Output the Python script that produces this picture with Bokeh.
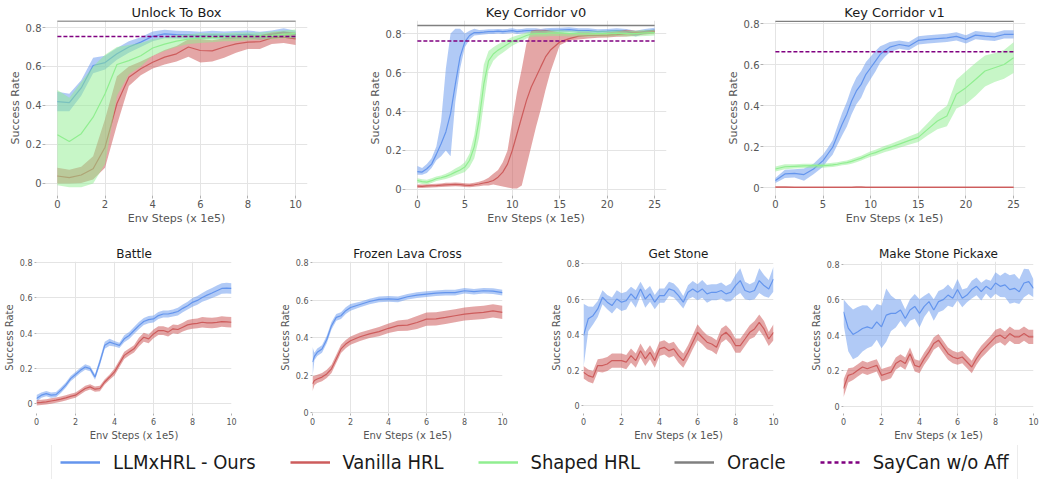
import numpy as np
from bokeh.plotting import figure
from bokeh.layouts import column, row
from bokeh.models import Range1d, NumeralTickFormatter, Legend, LegendItem
from bokeh.embed import file_html
from bokeh.resources import INLINE

# ---------------- labels / ticks ----------------
SERIES_NAMES = ["LLMxHRL - Ours", "Vanilla HRL", "Shaped HRL", "Oracle", "SayCan w/o Aff"]
Y_TICKS = [0, 0.2, 0.4, 0.6, 0.8]
X_TICKS_10 = [0, 2, 4, 6, 8, 10]
X_TICKS_25 = [0, 5, 10, 15, 20, 25]
X_LABEL = "Env Steps (x 1e5)"
Y_LABEL = "Success Rate"

BLUE, RED, GREEN, GREY, PURPLE = "#6495ED", "#CD5C5C", "#90EE90", "#808080", "#800080"
FONT = "DejaVu Sans"

# ---------------- Unlock To Box ----------------
unlock_x = [0, 0.5, 1, 1.5, 2, 2.5, 3, 3.5, 4, 4.5, 5, 5.5, 6, 6.5, 7, 7.5, 8, 8.5, 9, 9.5, 10]
unlock_blue = [0.42, 0.415, 0.49, 0.605, 0.62, 0.665, 0.70, 0.725, 0.755, 0.767, 0.764, 0.762, 0.758, 0.763, 0.76, 0.762, 0.765, 0.758, 0.765, 0.776, 0.764]
unlock_blue_hw = [0.05, 0.045, 0.04, 0.04, 0.035, 0.03, 0.03, 0.025, 0.025, 0.022, 0.02, 0.02, 0.02, 0.02, 0.02, 0.02, 0.02, 0.02, 0.02, 0.02, 0.02]
unlock_red = [0.038, 0.03, 0.043, 0.075, 0.186, 0.41, 0.545, 0.588, 0.622, 0.648, 0.665, 0.70, 0.682, 0.68, 0.70, 0.716, 0.725, 0.727, 0.747, 0.75, 0.742]
unlock_red_lo = [0.0, 0.0, 0.002, 0.02, 0.08, 0.3, 0.5, 0.555, 0.59, 0.61, 0.625, 0.65, 0.62, 0.625, 0.645, 0.67, 0.69, 0.69, 0.715, 0.72, 0.71]
unlock_red_hi = [0.08, 0.07, 0.085, 0.14, 0.33, 0.55, 0.6, 0.625, 0.655, 0.685, 0.705, 0.74, 0.74, 0.735, 0.745, 0.755, 0.76, 0.76, 0.775, 0.78, 0.775]
unlock_green = [0.25, 0.215, 0.255, 0.34, 0.46, 0.61, 0.63, 0.655, 0.695, 0.715, 0.73, 0.74, 0.745, 0.748, 0.75, 0.752, 0.755, 0.757, 0.76, 0.765, 0.77]
unlock_green_lo = [-0.01, -0.02, -0.02, 0.0, 0.1, 0.45, 0.56, 0.6, 0.655, 0.68, 0.70, 0.715, 0.72, 0.725, 0.73, 0.73, 0.735, 0.74, 0.74, 0.745, 0.745]
unlock_green_hi = [0.48, 0.44, 0.52, 0.6, 0.66, 0.70, 0.71, 0.72, 0.74, 0.75, 0.76, 0.765, 0.77, 0.77, 0.77, 0.775, 0.775, 0.775, 0.78, 0.785, 0.79]
unlock_oracle = 0.834
unlock_saycan = 0.754

# ---------------- Key Corridor v0 ----------------
v0_x = [0, 0.5, 1, 1.5, 2, 2.5, 3, 3.5, 4, 4.5, 5, 5.5, 6, 6.5, 7, 7.5, 8, 8.5, 9, 9.5, 10, 10.5, 11, 11.5, 12, 12.5, 13, 13.5, 14, 15, 16, 17, 18, 19, 20, 21, 22, 23, 24, 25]
v0_blue = [0.092, 0.089, 0.106, 0.13, 0.18, 0.235, 0.295, 0.39, 0.54, 0.68, 0.757, 0.79, 0.805, 0.805, 0.807, 0.81, 0.81, 0.812, 0.81, 0.812, 0.815, 0.81, 0.812, 0.815, 0.815, 0.815, 0.812, 0.815, 0.817, 0.818, 0.82, 0.815, 0.815, 0.81, 0.812, 0.815, 0.812, 0.80, 0.812, 0.818]
v0_blue_lo = [0.075, 0.075, 0.085, 0.11, 0.15, 0.17, 0.20, 0.17, 0.45, 0.62, 0.73, 0.77, 0.79, 0.792, 0.795, 0.798, 0.798, 0.8, 0.798, 0.8, 0.803, 0.798, 0.8, 0.803, 0.803, 0.803, 0.8, 0.803, 0.805, 0.806, 0.808, 0.803, 0.803, 0.798, 0.8, 0.803, 0.8, 0.785, 0.8, 0.805]
v0_blue_hi = [0.12, 0.11, 0.13, 0.16, 0.22, 0.35, 0.62, 0.8, 0.825, 0.825, 0.80, 0.815, 0.825, 0.818, 0.82, 0.822, 0.822, 0.824, 0.822, 0.824, 0.827, 0.822, 0.824, 0.827, 0.827, 0.827, 0.824, 0.827, 0.829, 0.83, 0.832, 0.827, 0.827, 0.822, 0.824, 0.827, 0.824, 0.815, 0.824, 0.83]
v0_red = [0.017, 0.016, 0.018, 0.019, 0.02, 0.022, 0.024, 0.025, 0.026, 0.025, 0.022, 0.021, 0.024, 0.028, 0.033, 0.038, 0.046, 0.063, 0.089, 0.13, 0.2, 0.286, 0.372, 0.457, 0.526, 0.577, 0.629, 0.68, 0.714, 0.757, 0.774, 0.787, 0.79, 0.79, 0.792, 0.795, 0.80, 0.803, 0.805, 0.81]
v0_red_lo = [0.008, 0.008, 0.009, 0.01, 0.011, 0.012, 0.014, 0.015, 0.016, 0.015, 0.012, 0.011, 0.014, 0.017, 0.02, 0.02, 0.025, 0.02, 0.015, 0.01, 0.005, 0.005, 0.02, 0.12, 0.22, 0.32, 0.41, 0.51, 0.60, 0.74, 0.765, 0.77, 0.775, 0.778, 0.78, 0.783, 0.785, 0.79, 0.795, 0.80]
v0_red_hi = [0.026, 0.025, 0.027, 0.028, 0.029, 0.031, 0.034, 0.035, 0.036, 0.035, 0.032, 0.031, 0.034, 0.04, 0.047, 0.06, 0.08, 0.10, 0.14, 0.20, 0.35, 0.50, 0.62, 0.75, 0.815, 0.82, 0.82, 0.82, 0.815, 0.805, 0.80, 0.805, 0.805, 0.80, 0.805, 0.81, 0.82, 0.815, 0.815, 0.82]
v0_green = [0.046, 0.04, 0.038, 0.045, 0.055, 0.06, 0.067, 0.077, 0.089, 0.10, 0.115, 0.15, 0.22, 0.355, 0.54, 0.66, 0.695, 0.715, 0.73, 0.745, 0.76, 0.77, 0.78, 0.79, 0.797, 0.80, 0.80, 0.80, 0.802, 0.803, 0.80, 0.80, 0.798, 0.80, 0.80, 0.802, 0.80, 0.80, 0.803, 0.805]
v0_green_hw = [0.012, 0.012, 0.012, 0.012, 0.012, 0.012, 0.013, 0.015, 0.018, 0.02, 0.025, 0.035, 0.06, 0.09, 0.1, 0.05, 0.035, 0.03, 0.028, 0.025, 0.022, 0.02, 0.018, 0.016, 0.015, 0.015, 0.015, 0.015, 0.015, 0.015, 0.015, 0.015, 0.015, 0.015, 0.015, 0.015, 0.015, 0.015, 0.015, 0.015]
v0_oracle = 0.841
v0_saycan = 0.762

# ---------------- Key Corridor v1 ----------------
v1_x = [0, 1, 2, 3, 4, 5, 5.5, 6, 6.5, 7, 7.5, 8, 8.5, 9, 9.5, 10, 10.5, 11, 11.5, 12, 13, 14, 15, 16, 17, 18, 19, 20, 21, 22, 23, 24, 25]
v1_blue = [0.036, 0.068, 0.071, 0.065, 0.092, 0.133, 0.165, 0.197, 0.254, 0.31, 0.359, 0.423, 0.472, 0.504, 0.553, 0.585, 0.617, 0.65, 0.669, 0.685, 0.698, 0.69, 0.718, 0.723, 0.727, 0.73, 0.738, 0.723, 0.744, 0.739, 0.735, 0.747, 0.747]
v1_blue_hw = [0.012, 0.02, 0.02, 0.03, 0.025, 0.03, 0.03, 0.035, 0.045, 0.055, 0.06, 0.065, 0.065, 0.065, 0.06, 0.055, 0.05, 0.04, 0.03, 0.025, 0.02, 0.02, 0.02, 0.02, 0.02, 0.02, 0.02, 0.02, 0.02, 0.02, 0.02, 0.02, 0.02]
v1_red = [0.004, 0.004, 0.003, 0.003, 0.003, 0.003, 0.003, 0.003, 0.003, 0.003, 0.003, 0.003, 0.004, 0.004, 0.003, 0.003, 0.003, 0.003, 0.003, 0.003, 0.003, 0.003, 0.003, 0.003, 0.003, 0.003, 0.003, 0.003, 0.003, 0.003, 0.003, 0.003, 0.003]
v1_red_hw = [0.004, 0.004, 0.004, 0.004, 0.004, 0.004, 0.004, 0.004, 0.004, 0.004, 0.004, 0.004, 0.004, 0.004, 0.004, 0.004, 0.004, 0.004, 0.004, 0.004, 0.004, 0.004, 0.004, 0.004, 0.004, 0.004, 0.004, 0.004, 0.004, 0.004, 0.004, 0.004, 0.004]
v1_green = [0.092, 0.103, 0.105, 0.107, 0.108, 0.108, 0.11, 0.112, 0.115, 0.12, 0.123, 0.129, 0.137, 0.145, 0.155, 0.165, 0.172, 0.181, 0.19, 0.197, 0.213, 0.23, 0.246, 0.286, 0.326, 0.35, 0.456, 0.488, 0.528, 0.569, 0.585, 0.601, 0.634]
v1_green_hw = [0.012, 0.012, 0.01, 0.01, 0.01, 0.01, 0.01, 0.01, 0.01, 0.01, 0.01, 0.012, 0.012, 0.012, 0.012, 0.013, 0.014, 0.015, 0.015, 0.016, 0.018, 0.02, 0.022, 0.03, 0.04, 0.05, 0.07, 0.08, 0.08, 0.075, 0.07, 0.07, 0.075]
v1_oracle = 0.811
v1_saycan = 0.663

# ---------------- bottom row (x every 0.25) ----------------
x_quarter = [0, 0.25, 0.5, 0.75, 1, 1.25, 1.5, 1.75, 2, 2.25, 2.5, 2.75, 3, 3.25, 3.5, 3.75, 4, 4.25, 4.5, 4.75, 5, 5.25, 5.5, 5.75, 6, 6.25, 6.5, 6.75, 7, 7.25, 7.5, 7.75, 8, 8.25, 8.5, 8.75, 9, 9.25, 9.5, 9.75, 10]

battle_blue = [0.028, 0.047, 0.056, 0.047, 0.05, 0.075, 0.104, 0.141, 0.164, 0.188, 0.207, 0.198, 0.15, 0.235, 0.33, 0.348, 0.339, 0.33, 0.367, 0.386, 0.414, 0.442, 0.465, 0.476, 0.48, 0.499, 0.508, 0.508, 0.514, 0.522, 0.54, 0.555, 0.574, 0.585, 0.602, 0.615, 0.627, 0.64, 0.653, 0.655, 0.653]
battle_blue_hw = [0.02, 0.015, 0.015, 0.015, 0.015, 0.015, 0.015, 0.015, 0.015, 0.015, 0.015, 0.015, 0.015, 0.02, 0.02, 0.02, 0.015, 0.015, 0.02, 0.02, 0.02, 0.02, 0.02, 0.02, 0.02, 0.02, 0.02, 0.02, 0.02, 0.022, 0.022, 0.022, 0.025, 0.025, 0.025, 0.028, 0.028, 0.03, 0.03, 0.03, 0.03]
battle_red = [0.004, 0.006, 0.009, 0.014, 0.019, 0.025, 0.032, 0.04, 0.047, 0.066, 0.085, 0.094, 0.081, 0.085, 0.122, 0.15, 0.179, 0.226, 0.273, 0.292, 0.31, 0.348, 0.376, 0.367, 0.395, 0.414, 0.414, 0.405, 0.424, 0.42, 0.433, 0.446, 0.452, 0.455, 0.461, 0.458, 0.457, 0.46, 0.465, 0.463, 0.461]
battle_red_hw = [0.015, 0.015, 0.015, 0.015, 0.015, 0.015, 0.015, 0.015, 0.015, 0.015, 0.015, 0.015, 0.015, 0.015, 0.015, 0.015, 0.02, 0.02, 0.02, 0.02, 0.02, 0.025, 0.025, 0.025, 0.025, 0.025, 0.025, 0.025, 0.025, 0.025, 0.025, 0.028, 0.028, 0.028, 0.03, 0.03, 0.03, 0.03, 0.03, 0.03, 0.03]

frozen_x = [0, 0.1, 0.25, 0.5, 0.75, 1, 1.25, 1.5, 1.75, 2, 2.5, 3, 3.5, 4, 4.5, 5, 5.5, 6, 6.5, 7, 7.5, 8, 8.5, 9, 9.5, 10]
frozen_blue = [0.27, 0.30, 0.322, 0.34, 0.39, 0.464, 0.508, 0.517, 0.544, 0.561, 0.577, 0.593, 0.604, 0.607, 0.604, 0.618, 0.627, 0.632, 0.637, 0.64, 0.64, 0.65, 0.645, 0.65, 0.648, 0.64]
frozen_blue_hw = [0.08, 0.02, 0.02, 0.02, 0.02, 0.02, 0.018, 0.018, 0.018, 0.018, 0.015, 0.015, 0.015, 0.015, 0.015, 0.015, 0.015, 0.015, 0.015, 0.015, 0.015, 0.015, 0.015, 0.015, 0.015, 0.015]
frozen_red = [0.154, 0.172, 0.18, 0.19, 0.207, 0.234, 0.287, 0.34, 0.366, 0.384, 0.405, 0.42, 0.432, 0.45, 0.464, 0.467, 0.481, 0.499, 0.50, 0.508, 0.517, 0.526, 0.531, 0.535, 0.543, 0.535]
frozen_red_hw = [0.04, 0.025, 0.022, 0.022, 0.022, 0.022, 0.022, 0.022, 0.022, 0.022, 0.022, 0.022, 0.025, 0.025, 0.028, 0.03, 0.035, 0.035, 0.035, 0.035, 0.035, 0.035, 0.035, 0.035, 0.035, 0.035]

stone_blue = [0.395, 0.49, 0.508, 0.546, 0.612, 0.584, 0.565, 0.602, 0.584, 0.593, 0.631, 0.602, 0.659, 0.602, 0.631, 0.584, 0.621, 0.621, 0.659, 0.65, 0.621, 0.584, 0.64, 0.659, 0.64, 0.659, 0.631, 0.64, 0.64, 0.65, 0.631, 0.64, 0.678, 0.706, 0.65, 0.64, 0.65, 0.706, 0.678, 0.659, 0.715]
stone_blue_hw = [0.18, 0.07, 0.05, 0.045, 0.04, 0.04, 0.045, 0.05, 0.05, 0.05, 0.04, 0.05, 0.04, 0.05, 0.045, 0.04, 0.04, 0.04, 0.04, 0.04, 0.04, 0.035, 0.04, 0.045, 0.045, 0.05, 0.05, 0.045, 0.045, 0.045, 0.045, 0.05, 0.06, 0.07, 0.05, 0.045, 0.05, 0.07, 0.06, 0.05, 0.07]
stone_red = [0.188, 0.169, 0.16, 0.226, 0.226, 0.235, 0.254, 0.254, 0.254, 0.245, 0.282, 0.254, 0.31, 0.264, 0.301, 0.254, 0.32, 0.329, 0.31, 0.32, 0.282, 0.254, 0.301, 0.358, 0.414, 0.386, 0.358, 0.348, 0.329, 0.395, 0.414, 0.386, 0.339, 0.339, 0.376, 0.414, 0.433, 0.47, 0.433, 0.376, 0.414]
stone_red_hw = [0.035, 0.035, 0.035, 0.035, 0.04, 0.04, 0.04, 0.04, 0.04, 0.04, 0.04, 0.04, 0.04, 0.04, 0.04, 0.04, 0.04, 0.04, 0.04, 0.04, 0.04, 0.04, 0.04, 0.04, 0.045, 0.04, 0.04, 0.04, 0.04, 0.04, 0.04, 0.04, 0.04, 0.04, 0.04, 0.04, 0.045, 0.045, 0.045, 0.04, 0.045]

pick_blue = [0.532, 0.44, 0.404, 0.419, 0.438, 0.447, 0.438, 0.475, 0.447, 0.513, 0.523, 0.523, 0.542, 0.494, 0.542, 0.562, 0.523, 0.562, 0.589, 0.542, 0.589, 0.6, 0.626, 0.608, 0.657, 0.608, 0.626, 0.657, 0.675, 0.645, 0.675, 0.657, 0.694, 0.675, 0.683, 0.657, 0.664, 0.645, 0.694, 0.702, 0.664]
pick_blue_hw = [0.07, 0.13, 0.14, 0.14, 0.13, 0.12, 0.1, 0.1, 0.12, 0.15, 0.1, 0.08, 0.06, 0.05, 0.06, 0.07, 0.08, 0.06, 0.05, 0.06, 0.06, 0.06, 0.06, 0.05, 0.06, 0.05, 0.04, 0.05, 0.05, 0.05, 0.04, 0.05, 0.06, 0.06, 0.07, 0.08, 0.08, 0.07, 0.08, 0.07, 0.05]
pick_red = [0.10, 0.174, 0.183, 0.202, 0.221, 0.211, 0.221, 0.23, 0.174, 0.183, 0.192, 0.24, 0.258, 0.24, 0.296, 0.23, 0.221, 0.268, 0.306, 0.353, 0.372, 0.334, 0.296, 0.277, 0.268, 0.277, 0.249, 0.221, 0.268, 0.306, 0.334, 0.362, 0.391, 0.40, 0.381, 0.409, 0.391, 0.391, 0.409, 0.391, 0.391]
pick_red_hw = [0.05, 0.04, 0.035, 0.035, 0.035, 0.035, 0.035, 0.035, 0.035, 0.035, 0.035, 0.035, 0.035, 0.035, 0.035, 0.035, 0.035, 0.035, 0.035, 0.035, 0.035, 0.035, 0.035, 0.035, 0.035, 0.035, 0.035, 0.035, 0.035, 0.035, 0.035, 0.035, 0.04, 0.04, 0.04, 0.04, 0.04, 0.04, 0.04, 0.04, 0.04]


def lo_hi(mean, hw):
    return [m - h for m, h in zip(mean, hw)], [m + h for m, h in zip(mean, hw)]


def make_panel(title, width, left, right, height, top, bottom, xr, yr, xticks, big):
    p = figure(width=width, height=height, x_range=Range1d(*xr), y_range=Range1d(*yr),
               output_backend="svg", toolbar_location=None,
               min_border_left=left, min_border_right=right,
               min_border_top=top, min_border_bottom=bottom)
    p.title.text = title
    p.title.align = "center"
    p.title.text_font = FONT
    p.title.text_font_style = "normal"
    p.title.text_color = "#1a1a1a"
    p.title.text_font_size = "13px" if big else "12px"
    p.title.standoff = 2
    p.xaxis.ticker = xticks
    p.yaxis.ticker = Y_TICKS
    p.yaxis.formatter = NumeralTickFormatter(format="0.[0]")
    p.xaxis.axis_label = X_LABEL
    p.yaxis.axis_label = Y_LABEL
    for ax in (p.xaxis, p.yaxis):
        ax.axis_line_color = None
        ax.minor_tick_line_color = None
        ax.major_tick_line_color = "#b0b0b0"
        ax.major_tick_in = 0
        ax.major_tick_out = 3 if big else 2
        ax.major_label_standoff = 1 if big else 2
        ax.axis_label_standoff = 1 if big else 2
        ax.major_label_text_font = FONT
        ax.major_label_text_color = "#555555"
        ax.major_label_text_font_size = "10px" if big else "8px"
        ax.axis_label_text_font = FONT
        ax.axis_label_text_font_style = "normal"
        ax.axis_label_text_color = "#555555"
        ax.axis_label_text_font_size = "11px" if big else "10px"
    p.grid.grid_line_color = "#e4e4e4"
    p.outline_line_color = None
    return p


def add_series(p, x, mean, lo, hi, color, alpha=0.5):
    p.varea(x=x, y1=lo, y2=hi, fill_color=color, fill_alpha=alpha)
    p.line(x=x, y=mean, line_color=color, line_width=1.2)


def add_refs(p, x, oracle, saycan):
    ends = [x[0], x[-1]]
    p.line(x=ends, y=[oracle, oracle], line_color=GREY, line_width=1.5)
    p.line(x=ends, y=[saycan, saycan], line_color=PURPLE, line_width=1.5, line_dash="4 2")


TOP_H, TOP_T, TOP_B = 242, 20, 47
BOT_H, BOT_T, BOT_B = 203, 19, 32
BA = 0.5  # blue band alpha
RA = 0.55  # red band alpha

# ---- top row ----
f1 = make_panel("Unlock To Box", 362, 45, 55, TOP_H, TOP_T, TOP_B, (-0.5, 10.5), (-0.062, 0.836), X_TICKS_10, True)
add_series(f1, unlock_x, unlock_blue, *lo_hi(unlock_blue, unlock_blue_hw), BLUE, BA)
add_series(f1, unlock_x, unlock_red, unlock_red_lo, unlock_red_hi, RED, RA)
add_series(f1, unlock_x, unlock_green, unlock_green_lo, unlock_green_hi, GREEN)
add_refs(f1, unlock_x, unlock_oracle, unlock_saycan)

f2 = make_panel("Key Corridor v0", 360, 43, 56, TOP_H, TOP_T, TOP_B, (-1.25, 26.25), (-0.031, 0.867), X_TICKS_25, True)
add_series(f2, v0_x, v0_blue, v0_blue_lo, v0_blue_hi, BLUE, BA)
add_series(f2, v0_x, v0_red, v0_red_lo, v0_red_hi, RED, RA)
add_series(f2, v0_x, v0_green, *lo_hi(v0_green, v0_green_hw), GREEN)
add_refs(f2, v0_x, v0_oracle, v0_saycan)

f3 = make_panel("Key Corridor v1", 317, 41, 14, TOP_H, TOP_T, TOP_B, (-1.25, 26.25), (-0.037, 0.815), X_TICKS_25, True)
add_series(f3, v1_x, v1_blue, *lo_hi(v1_blue, v1_blue_hw), BLUE, BA)
add_series(f3, v1_x, v1_red, *lo_hi(v1_red, v1_red_hw), RED, RA)
add_series(f3, v1_x, v1_green, *lo_hi(v1_green, v1_green_hw), GREEN)
add_refs(f3, v1_x, v1_oracle, v1_saycan)

# ---- bottom row ----
f4 = make_panel("Battle", 276, 35, 45, BOT_H, BOT_T, BOT_B, (0, 10), (-0.057, 0.806), X_TICKS_10, False)
add_series(f4, x_quarter, battle_blue, *lo_hi(battle_blue, battle_blue_hw), BLUE, BA)
add_series(f4, x_quarter, battle_red, *lo_hi(battle_red, battle_red_hw), RED, RA)

f5 = make_panel("Frozen Lava Cross", 271, 30, 45, BOT_H, BOT_T, BOT_B, (0, 10), (-0.004, 0.806), X_TICKS_10, False)
add_series(f5, frozen_x, frozen_blue, *lo_hi(frozen_blue, frozen_blue_hw), BLUE, BA)
add_series(f5, frozen_x, frozen_red, *lo_hi(frozen_red, frozen_red_hw), RED, RA)

f6 = make_panel("Get Stone", 260, 30, 34, BOT_H, BOT_T, BOT_B, (0, 10), (-0.045, 0.814), X_TICKS_10, False)
add_series(f6, x_quarter, stone_blue, *lo_hi(stone_blue, stone_blue_hw), BLUE, BA)
add_series(f6, x_quarter, stone_red, *lo_hi(stone_red, stone_red_hw), RED, RA)

f7 = make_panel("Make Stone Pickaxe", 232, 30, 6, BOT_H, BOT_T, BOT_B, (0, 10), (-0.041, 0.815), X_TICKS_10, False)
add_series(f7, x_quarter, pick_blue, *lo_hi(pick_blue, pick_blue_hw), BLUE, BA)
add_series(f7, x_quarter, pick_red, *lo_hi(pick_red, pick_red_hw), RED, RA)

# ---- legend strip ----
lg = figure(width=1039, height=34, output_backend="svg", toolbar_location=None,
            x_range=Range1d(0, 1), y_range=Range1d(0, 1), x_axis_type=None, y_axis_type=None,
            min_border=0)
lg.grid.visible = False
lg.outline_line_color = None
styles = [dict(line_color=BLUE), dict(line_color=RED), dict(line_color=GREEN),
          dict(line_color=GREY), dict(line_color=PURPLE, line_dash="4 3")]
items = []
nan = np.array([np.nan])
for name, st in zip(SERIES_NAMES, styles):
    r = lg.line(x=nan, y=nan, line_width=2.5, **st)
    items.append(LegendItem(label=name, renderers=[r]))
legend = Legend(items=items, orientation="horizontal", location=(51, -4),
                label_text_font="DejaVu Sans Condensed", label_text_font_size="20px",
                label_text_color="#1a1a1a", glyph_width=40, glyph_height=20,
                label_standoff=13, spacing=34, padding=8, margin=0,
                border_line_color="#d9d9d9", border_line_width=1)
lg.add_layout(legend, "center")

layout = column(row(f1, f2, f3), row(f4, f5, f6, f7), lg, spacing=0)

open("out.html", "w").write(file_html(layout, INLINE))
